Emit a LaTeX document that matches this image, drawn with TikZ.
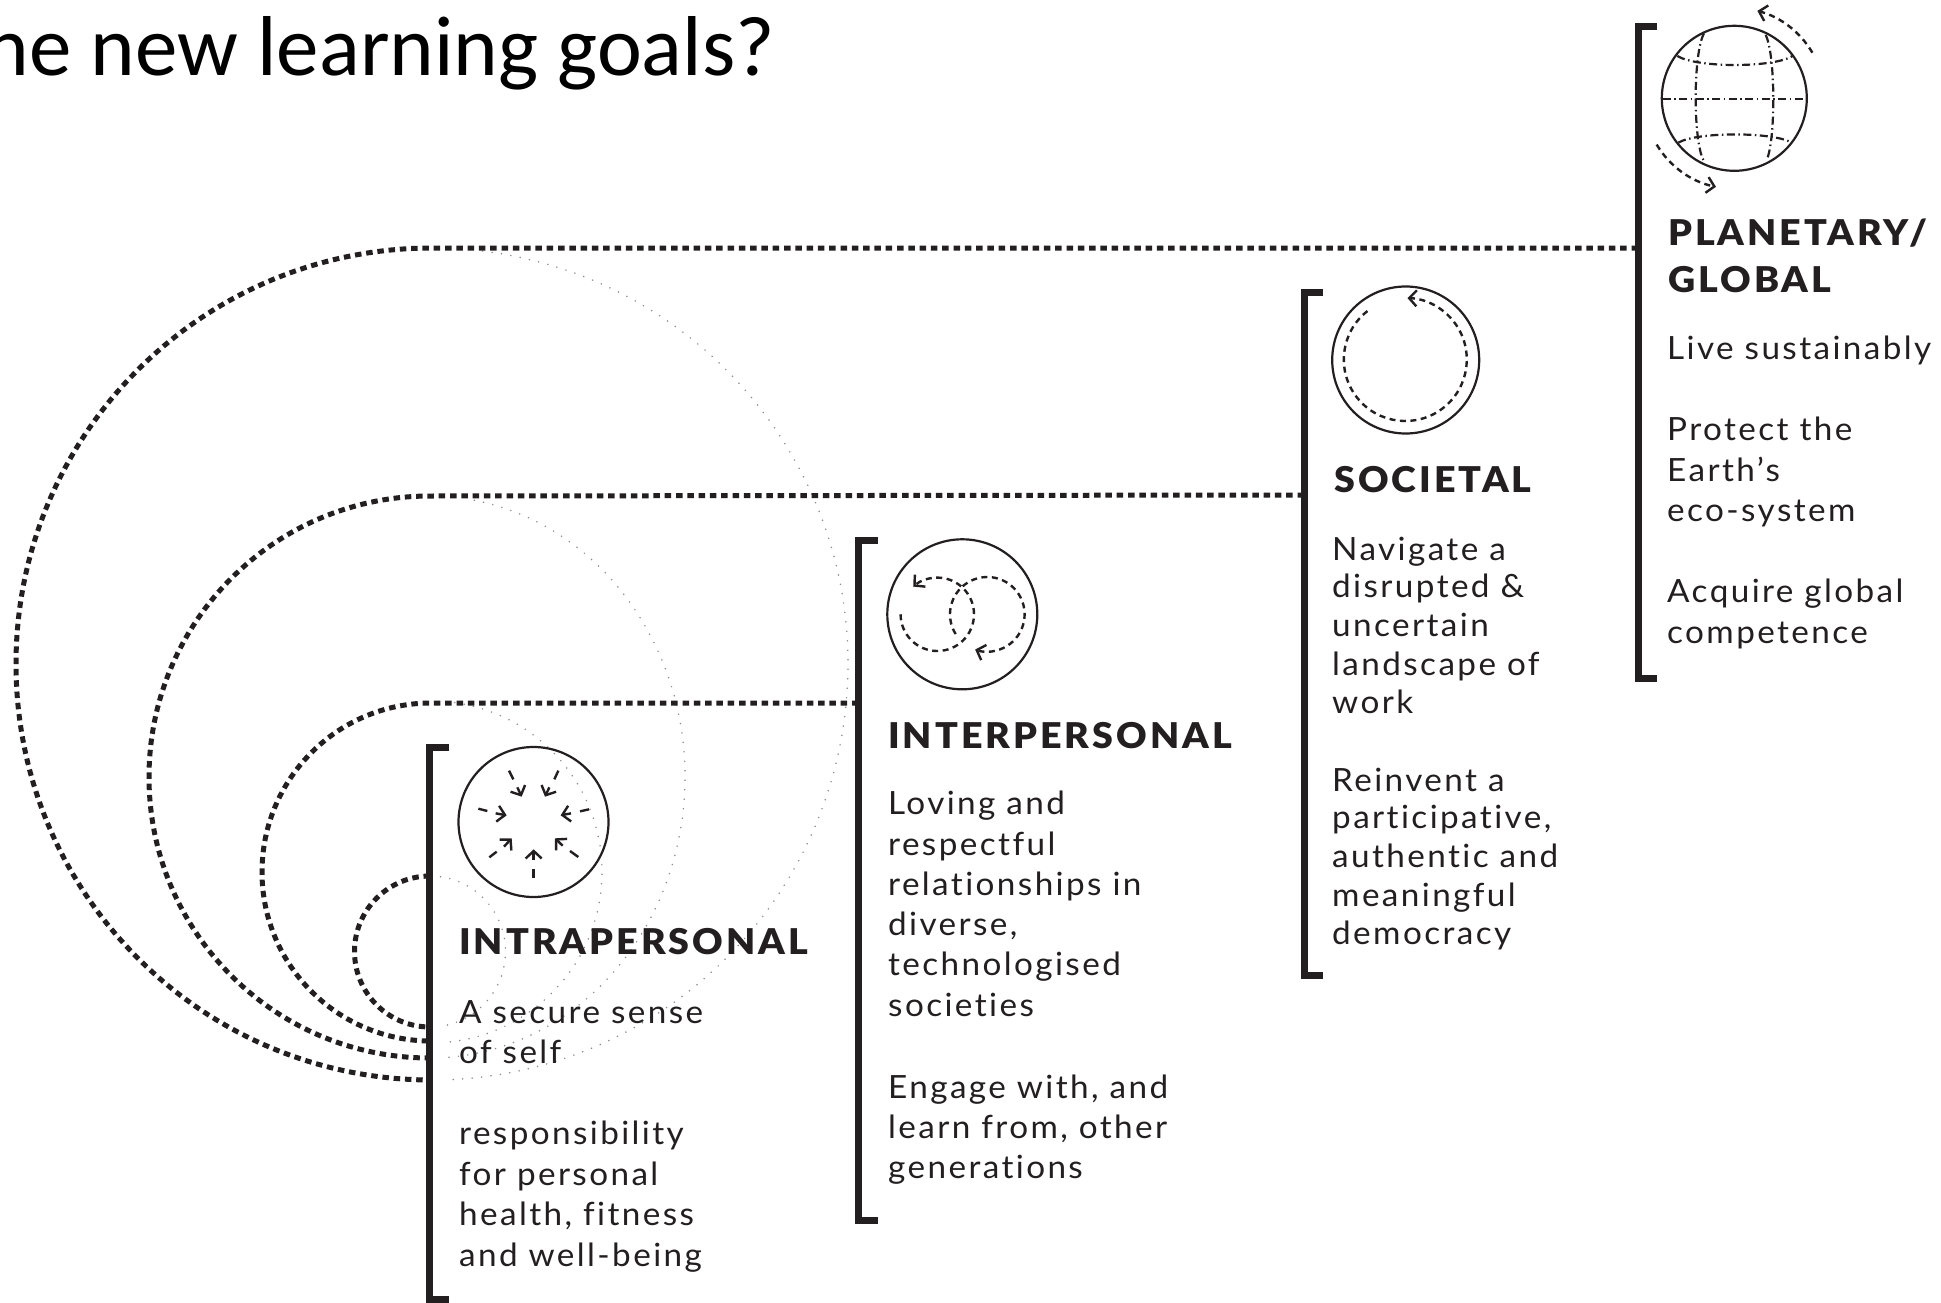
\documentclass[tikz,border=0pt]{standalone}
\usepackage{fontspec}
\usetikzlibrary{arrows.meta}
\setmainfont{Lato}
\newfontfamily\bodyf[LetterSpace=7.5,FakeStretch=1.04,Ligatures=NoCommon]{Lato}
\newfontfamily\headf[LetterSpace=8.5,FakeStretch=1.06,Ligatures=NoCommon]{Lato Black}
\newfontfamily\titlef{Carlito}
\definecolor{ink}{HTML}{231F20}
\tikzset{
  bracketline/.style={draw=ink,line width=7pt,line cap=butt,line join=miter},
  linkline/.style={draw=ink,line width=5pt,dash pattern=on 6.5pt off 4.8pt},
  ghost/.style={draw=black!45,line width=1.7pt,line cap=round,dash pattern=on 0pt off 9.5pt},
  ring/.style={draw=ink,line width=2.2pt},
  icobar/.style={draw=ink,line width=2.4pt},
  icotip/.style={draw=ink,line width=2.4pt,-{Straight Barb[length=7.5pt,width=16pt]}},
  icodashtip/.style={draw=ink,line width=2.4pt,dash pattern=on 6pt off 4.5pt,-{Straight Barb[length=7.5pt,width=16pt,sep=0pt]}},
  grat/.style={draw=ink,line width=2.2pt,dash pattern=on 8pt off 3.5pt on 1.5pt off 3.5pt},
  headtxt/.style={anchor=base west,inner sep=0pt,text=ink,font=\headf\fontsize{35.5}{40}\selectfont},
  bodytxt/.style={anchor=base west,inner sep=0pt,text=ink,font=\bodyf\fontsize{32}{40}\selectfont},
}
\begin{document}
\begin{tikzpicture}[x=1pt,y=-1pt]
\clip (0,0) rectangle (1941,1303);
\fill[white] (0,0) rectangle (1941,1303);

% title
\node[anchor=base east,inner sep=0pt,font=\titlef\fontsize{85}{90}\selectfont] (title) at (775,76) {he new learning goals?};

% circle centres and link ends
\coordinate (cA) at (430,951.5);
\coordinate (cB) at (431,872);
\coordinate (cC) at (430,777);
\coordinate (cD) at (432,664);
\coordinate (endA) at (430,876);
\coordinate (barB) at (858.5,703);
\coordinate (endB) at (431,703);
\coordinate (barC) at (1304,495);
\coordinate (endC) at (430,496);
\coordinate (barD) at (1638,248);
\coordinate (endD) at (432,248);

% faint dotted continuations
\draw[ghost] (cA) ++(82:75.5pt) arc[start angle=82,end angle=-82,radius=75.5pt];
\draw[ghost] (cB) ++(82:171pt) arc[start angle=82,end angle=-86,radius=171pt];
\draw[ghost] (cC) ++(80:255pt and 281pt) arc[start angle=80,end angle=-87,x radius=255pt,y radius=281pt];
\draw[ghost] (cD) ++(83:416pt) arc[start angle=83,end angle=-88,radius=416pt];

% heavy dashed links
\draw[linkline] (endA) arc[start angle=90,end angle=270,radius=75.5pt];
\draw[linkline] (barB) -- (endB) arc[start angle=90,end angle=270,radius=169pt];
\draw[linkline] (barC) -- (endC) arc[start angle=90,end angle=270,radius=281pt];
\draw[linkline] (barD) -- (endD) arc[start angle=90,end angle=270,radius=416pt];

% brackets
\draw[bracketline] (449,747) -- (429.7,747) -- (429.7,1299) -- (449,1299);
\draw[bracketline] (878,540) -- (858.5,540) -- (858.5,1220) -- (878,1220);
\draw[bracketline] (1323,292.5) -- (1304,292.5) -- (1304,975) -- (1323,975);
\draw[bracketline] (1657,27) -- (1638,27) -- (1638,678) -- (1657,678);

% intrapersonal icon
\node[ring,circle,minimum size=150pt,inner sep=0pt] (ringA) at (533.5,822) {};
\begin{scope}[shift={(430,730)},x=0.33333pt,y=-0.33333pt]
\draw[icobar] (311,418)--(311,445);  \draw[icotip] (311,390)--(311,358);
\draw[icobar] (178,382)--(200,365);  \draw[icotip] (222,350)--(245,325);
\draw[icobar] (145,236)--(172,243);  \draw[icotip] (197,250)--(230,256);
\draw[icobar] (237,122)--(250,148);  \draw[icotip] (262,172)--(275,200);
\draw[icobar] (385,122)--(373,148);  \draw[icotip] (358,172)--(345,200);
\draw[icobar] (477,238)--(450,244);  \draw[icotip] (423,250)--(392,256);
\draw[icobar] (445,381)--(420,363);  \draw[icotip] (398,347)--(375,325);
\end{scope}

% interpersonal icon
\node[ring,circle,minimum size=150pt,inner sep=0pt] (ringB) at (962.3,614.3) {};
\coordinate (lp) at (937.3,614.3);
\coordinate (rp) at (987.3,614.3);
\draw[icodashtip] (lp) ++(180:36.7pt) arc[start angle=180,end angle=491,radius=36.7pt];
\draw[icodashtip] (rp) ++(212:37.3pt) arc[start angle=212,end angle=-109,radius=37.3pt];

% societal icon
\node[ring,circle,minimum size=147pt,inner sep=0pt] (ringC) at (1405.7,360) {};
\coordinate (sc) at (1405.3,359.5);
\draw[icodashtip] (sc) ++(128:61.5pt) arc[start angle=128,end angle=448,radius=61.5pt];

% planetary icon
\node[ring,circle,minimum size=145pt,inner sep=0pt] (ringD) at (1734.3,98.3) {};
\coordinate (pc) at (1734.3,98.3);
\draw[icodashtip] (pc) ++(30.3:90.4pt) arc[start angle=30.3,end angle=75.2,radius=90.4pt];
\draw[icodashtip] (pc) ++(210.8:90.4pt) arc[start angle=210.8,end angle=258.3,radius=90.4pt];
\begin{scope}[shift={(1600,0)},x=0.33333pt,y=-0.33333pt]
\draw[grat] (188,297) -- (610,297);
\draw[grat] (312,100) .. controls (279,160) and (279,420) .. (310,480);
\draw[grat] (497,105) .. controls (527,165) and (527,420) .. (500,480);
\draw[grat] (232,168) .. controls (290,204) and (520,204) .. (578,168);
\draw[grat] (235,428) .. controls (290,395) and (520,395) .. (575,428);
\end{scope}

% intrapersonal text
\node[headtxt] (hA) at (459,954) {INTRAPERSONAL};
\node[bodytxt] (a1) at (459,1023) {A secure sense};
\node[bodytxt] (a2) at (459,1063) {of self};
\node[bodytxt] (a3) at (459,1144) {responsibility};
\node[bodytxt] (a4) at (459,1185) {for personal};
\node[bodytxt] (a5) at (459,1225) {health, fitness};
\node[bodytxt] (a6) at (459,1266) {and well-being};

% interpersonal text
\node[headtxt] (hB) at (888,748) {INTERPERSONAL};
\node[bodytxt] (b1) at (888,814) {Loving and};
\node[bodytxt] (b2) at (888,855) {respectful};
\node[bodytxt] (b3) at (888,895) {relationships in};
\node[bodytxt] (b4) at (888,935) {diverse,};
\node[bodytxt] (b5) at (888,975) {technologised};
\node[bodytxt] (b6) at (888,1016) {societies};
\node[bodytxt] (b7) at (888,1098) {Engage with, and};
\node[bodytxt] (b8) at (888,1138) {learn from, other};
\node[bodytxt] (b9) at (888,1178) {generations};

% societal text
\node[headtxt] (hC) at (1334,492) {SOCIETAL};
\node[bodytxt] (c1) at (1332,560) {Navigate a};
\node[bodytxt] (c2) at (1332,597) {disrupted \&};
\node[bodytxt] (c3) at (1332,636) {uncertain};
\node[bodytxt] (c4) at (1332,675) {landscape of};
\node[bodytxt] (c5) at (1332,713) {work};
\node[bodytxt] (c6) at (1332,791) {Reinvent a};
\node[bodytxt] (c7) at (1332,828) {participative,};
\node[bodytxt] (c8) at (1332,867) {authentic and};
\node[bodytxt] (c9) at (1332,906) {meaningful};
\node[bodytxt] (c10) at (1332,944) {democracy};

% planetary text
\node[headtxt] (hD) at (1668,245) {PLANETARY/};
\node[headtxt] (hD2) at (1668,292) {GLOBAL};
\node[bodytxt] (d1) at (1667,359) {Live sustainably};
\node[bodytxt] (d2) at (1667,440) {Protect the};
\node[bodytxt] (d3) at (1667,481) {Earth’s};
\node[bodytxt] (d4) at (1667,521) {eco-system};
\node[bodytxt] (d5) at (1667,602) {Acquire global};
\node[bodytxt] (d6) at (1667,643) {competence};
\end{tikzpicture}
\end{document}
